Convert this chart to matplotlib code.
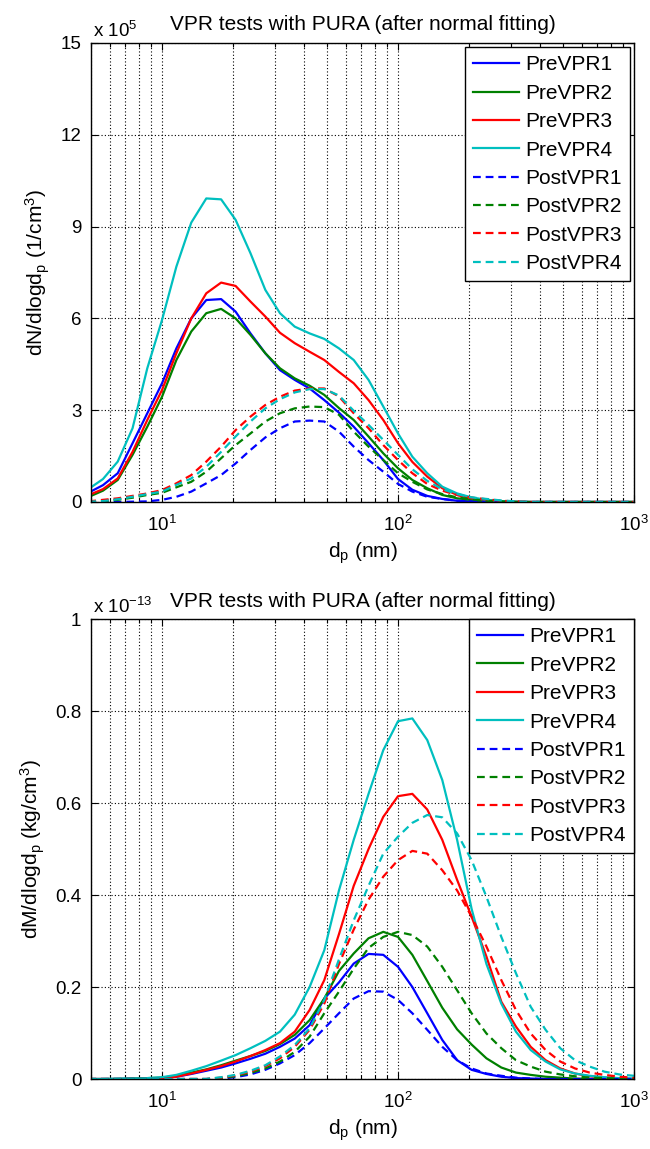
import matplotlib
matplotlib.use('Agg')
import matplotlib.pyplot as plt
from matplotlib.ticker import FixedLocator, LogLocator, NullFormatter

plt.rcParams['font.family'] = ['Liberation Sans', 'DejaVu Sans']
plt.rcParams['mathtext.fontset'] = 'custom'
plt.rcParams['mathtext.rm'] = 'Liberation Sans'
plt.rcParams['mathtext.it'] = 'Liberation Sans:italic'
plt.rcParams['mathtext.bf'] = 'Liberation Sans:bold'

# particle diameter channels (nm)
diameters = [4.87, 5.62, 6.49, 7.50, 8.66, 10.0, 11.5, 13.3, 15.4, 17.8, 20.5, 23.7,
             27.4, 31.6, 36.5, 42.2, 48.7, 56.2, 64.9, 75.0, 86.6, 100, 115, 133,
             154, 178, 205, 237, 274, 316, 365, 422, 487, 562, 649, 750, 866, 1000]

series_labels = ['PreVPR1', 'PreVPR2', 'PreVPR3', 'PreVPR4',
                 'PostVPR1', 'PostVPR2', 'PostVPR3', 'PostVPR4']

# dN/dlogdp in units of 1e5 1/cm^3
number_pre1 = [0.30, 0.55, 0.94, 1.92, 2.90, 3.88, 5.02, 6.00, 6.60, 6.63, 6.22, 5.51,
               4.86, 4.31, 3.99, 3.71, 3.33, 2.92, 2.46, 1.92, 1.37, 0.75, 0.40, 0.20,
               0.10, 0.04, 0.02, 0.01, 0, 0, 0, 0, 0, 0, 0, 0, 0, 0]
number_pre2 = [0.16, 0.37, 0.72, 1.54, 2.46, 3.44, 4.64, 5.57, 6.17, 6.31, 6.00, 5.46,
               4.86, 4.37, 4.04, 3.80, 3.50, 3.07, 2.68, 2.14, 1.59, 1.10, 0.72, 0.45,
               0.23, 0.12, 0.07, 0.03, 0.01, 0, 0, 0, 0, 0, 0, 0, 0, 0]
number_pre3 = [0.22, 0.42, 0.77, 1.64, 2.68, 3.66, 4.86, 6.00, 6.82, 7.17, 7.06, 6.55,
               6.06, 5.53, 5.19, 4.91, 4.64, 4.25, 3.88, 3.33, 2.68, 1.92, 1.31, 0.83,
               0.45, 0.23, 0.12, 0.07, 0.03, 0.01, 0, 0, 0, 0, 0, 0, 0, 0]
number_pre4 = [0.42, 0.75, 1.32, 2.41, 4.37, 5.95, 7.69, 9.13, 9.92, 9.89, 9.22, 8.13,
               6.93, 6.17, 5.73, 5.51, 5.33, 5.02, 4.64, 3.99, 3.12, 2.24, 1.48, 0.94,
               0.50, 0.28, 0.15, 0.07, 0.03, 0.01, 0, 0, 0, 0, 0, 0, 0, 0]
number_post1 = [0, 0, 0, 0.01, 0.02, 0.07, 0.17, 0.34, 0.61, 0.88, 1.26, 1.70,
                2.11, 2.41, 2.63, 2.66, 2.63, 2.30, 1.81, 1.37, 0.99, 0.59, 0.34, 0.17,
                0.10, 0.04, 0.02, 0, 0, 0, 0, 0, 0, 0, 0, 0, 0, 0]
number_post2 = [0.01, 0.03, 0.07, 0.14, 0.23, 0.30, 0.48, 0.66, 0.99, 1.43, 1.86, 2.24,
                2.63, 2.90, 3.06, 3.12, 3.10, 2.85, 2.30, 1.81, 1.37, 0.94, 0.66, 0.41,
                0.26, 0.15, 0.09, 0.04, 0.02, 0, 0, 0, 0, 0, 0, 0, 0, 0]
number_post3 = [0.02, 0.07, 0.12, 0.20, 0.28, 0.39, 0.61, 0.88, 1.32, 1.81, 2.35, 2.79,
                3.17, 3.44, 3.64, 3.71, 3.71, 3.45, 2.90, 2.41, 1.86, 1.37, 0.94, 0.59,
                0.37, 0.23, 0.14, 0.09, 0.04, 0.02, 0, 0, 0, 0, 0, 0, 0, 0]
number_post4 = [0.01, 0.03, 0.09, 0.17, 0.26, 0.34, 0.56, 0.77, 1.15, 1.64, 2.14, 2.63,
                3.06, 3.36, 3.58, 3.69, 3.69, 3.48, 2.98, 2.52, 2.03, 1.54, 1.07, 0.69,
                0.42, 0.26, 0.15, 0.10, 0.05, 0.02, 0, 0, 0, 0, 0, 0, 0, 0]

# dM/dlogdp in units of 1e-13 kg/cm^3
mass_pre1 = [0, 0, 0, 0.001, 0.001, 0.002, 0.005, 0.011, 0.018, 0.025, 0.034, 0.044,
             0.055, 0.070, 0.088, 0.117, 0.175, 0.210, 0.251, 0.272, 0.270, 0.244, 0.200, 0.143,
             0.085, 0.041, 0.020, 0.011, 0.005, 0.002, 0.001, 0, 0, 0, 0, 0, 0, 0]
mass_pre2 = [0, 0, 0, 0.001, 0.002, 0.003, 0.007, 0.014, 0.021, 0.030, 0.040, 0.050,
             0.061, 0.076, 0.096, 0.128, 0.175, 0.235, 0.273, 0.306, 0.320, 0.309, 0.270, 0.213,
             0.155, 0.108, 0.075, 0.045, 0.025, 0.014, 0.009, 0.005, 0.003, 0.001, 0, 0, 0, 0]
mass_pre3 = [0, 0, 0, 0, 0.001, 0.001, 0.005, 0.012, 0.020, 0.028, 0.038, 0.050,
             0.063, 0.078, 0.103, 0.150, 0.215, 0.315, 0.420, 0.500, 0.570, 0.615, 0.620, 0.586,
             0.520, 0.433, 0.353, 0.266, 0.168, 0.114, 0.070, 0.041, 0.023, 0.012, 0.006, 0.003, 0.001, 0]
mass_pre4 = [0, 0, 0.001, 0.001, 0.002, 0.004, 0.009, 0.018, 0.028, 0.040, 0.052, 0.067,
             0.083, 0.103, 0.140, 0.200, 0.280, 0.410, 0.520, 0.620, 0.715, 0.778, 0.784, 0.737,
             0.650, 0.520, 0.370, 0.250, 0.164, 0.103, 0.063, 0.038, 0.021, 0.012, 0.007, 0.004, 0.002, 0.001]
mass_post1 = [0, 0, 0, 0, 0, 0, 0, 0, 0, 0.001, 0.004, 0.010,
              0.020, 0.034, 0.052, 0.078, 0.110, 0.143, 0.175, 0.191, 0.190, 0.172, 0.143, 0.107,
              0.070, 0.041, 0.023, 0.012, 0.007, 0.003, 0.001, 0, 0, 0, 0, 0, 0, 0]
mass_post2 = [0, 0, 0, 0, 0, 0, 0, 0, 0, 0.002, 0.006, 0.013,
              0.023, 0.038, 0.059, 0.092, 0.143, 0.190, 0.240, 0.285, 0.309, 0.320, 0.313, 0.288,
              0.244, 0.193, 0.143, 0.099, 0.067, 0.041, 0.027, 0.016, 0.010, 0.006, 0.003, 0.002, 0.001, 0]
mass_post3 = [0, 0, 0, 0, 0, 0, 0, 0, 0, 0.003, 0.008, 0.016,
              0.028, 0.045, 0.070, 0.107, 0.164, 0.250, 0.325, 0.390, 0.440, 0.476, 0.496, 0.490,
              0.454, 0.410, 0.353, 0.288, 0.215, 0.150, 0.099, 0.063, 0.038, 0.023, 0.014, 0.009, 0.005, 0.003]
mass_post4 = [0, 0, 0, 0, 0, 0, 0, 0, 0, 0.004, 0.009, 0.018,
              0.030, 0.049, 0.074, 0.110, 0.172, 0.260, 0.345, 0.420, 0.490, 0.527, 0.557, 0.574,
              0.569, 0.534, 0.476, 0.396, 0.309, 0.230, 0.157, 0.107, 0.067, 0.041, 0.027, 0.016, 0.010, 0.007]

number_series = [number_pre1, number_pre2, number_pre3, number_pre4,
                 number_post1, number_post2, number_post3, number_post4]
mass_series = [mass_pre1, mass_pre2, mass_pre3, mass_pre4,
               mass_post1, mass_post2, mass_post3, mass_post4]

number_yticks = [0, 3, 6, 9, 12, 15]
mass_yticks = [0, 0.2, 0.4, 0.6, 0.8, 1.0]
mass_yticklabels = ['0', '0.2', '0.4', '0.6', '0.8', '1']
xtick_values = [10, 100, 1000]

title_text = 'VPR tests with PURA (after normal fitting)'

colors = ['#0000ff', '#008000', '#ff0000', '#00bfbf'] * 2
styles = ['-'] * 4 + ['--'] * 4

fig = plt.figure(figsize=(6.5, 11.49), dpi=100)
ax1 = fig.add_axes([0.14, 0.5631, 0.8354, 0.3995])
ax2 = fig.add_axes([0.14, 0.0609, 0.8354, 0.4003])


def style_axes(ax, yticks, ylim, ylabel, mult_text, yticklabels=None):
    ax.set_xscale('log')
    ax.set_xlim(5, 1000)
    ax.set_ylim(*ylim)
    ax.xaxis.set_major_locator(FixedLocator(xtick_values))
    ax.xaxis.set_minor_locator(LogLocator(base=10, subs=range(2, 10)))
    ax.xaxis.set_minor_formatter(NullFormatter())
    ax.set_yticks(yticks)
    if yticklabels is not None:
        ax.set_yticklabels(yticklabels)
    ax.tick_params(which='both', direction='in', top=True, right=True, width=0.8)
    ax.tick_params(which='major', length=5)
    ax.tick_params(which='minor', length=3)
    ax.tick_params(axis='x', which='major', labelsize=13.5, pad=9)
    ax.tick_params(axis='y', labelsize=13.5, pad=7)
    grid_kw = dict(color='k', linestyle=(0, (1, 2)), linewidth=0.8)
    ax.grid(True, which='major', axis='both', **grid_kw)
    ax.grid(True, which='minor', axis='x', **grid_kw)
    ax.set_axisbelow(True)
    for sp in ax.spines.values():
        sp.set_linewidth(1.0)
        sp.set_color('k')
    ax.set_xlabel(r'd$_\mathregular{p}$ (nm)', fontsize=15, labelpad=4)
    ax.set_ylabel(ylabel, fontsize=15, labelpad=6)
    ax.set_title(title_text, fontsize=15, pad=9)
    ax.text(0.004, 1.014, mult_text, transform=ax.transAxes, fontsize=13.5,
            ha='left', va='baseline')


def draw(ax, series):
    for vals, lab, col, ls in zip(series, series_labels, colors, styles):
        kw = dict(color=col, linewidth=1.6, label=lab)
        if ls == '--':
            ax.plot(diameters, vals, linestyle='--', dashes=(3.5, 2.2), **kw)
        else:
            ax.plot(diameters, vals, linestyle='-', **kw)


draw(ax1, number_series)
draw(ax2, mass_series)
style_axes(ax1, number_yticks, (0, 15), r'dN/dlogd$_\mathregular{p}$ (1/cm$^\mathregular{3}$)',
           r'x 10$^\mathregular{5}$')
style_axes(ax2, mass_yticks, (0, 1), r'dM/dlogd$_\mathregular{p}$ (kg/cm$^\mathregular{3}$)',
           r'x 10$^\mathregular{-13}$', mass_yticklabels)

leg_kw = dict(loc='upper right', fontsize=15, labelspacing=0.45, handlelength=2.2,
              handletextpad=0.3, borderpad=0.4, borderaxespad=0, fancybox=False,
              framealpha=1, edgecolor='k')
leg1 = ax1.legend(bbox_to_anchor=(0.9926, 0.991), **leg_kw)
leg2 = ax2.legend(bbox_to_anchor=(1.0, 1.0), **leg_kw)
for leg in (leg1, leg2):
    leg.get_frame().set_linewidth(1.0)

fig.savefig('out.png', dpi=100)
